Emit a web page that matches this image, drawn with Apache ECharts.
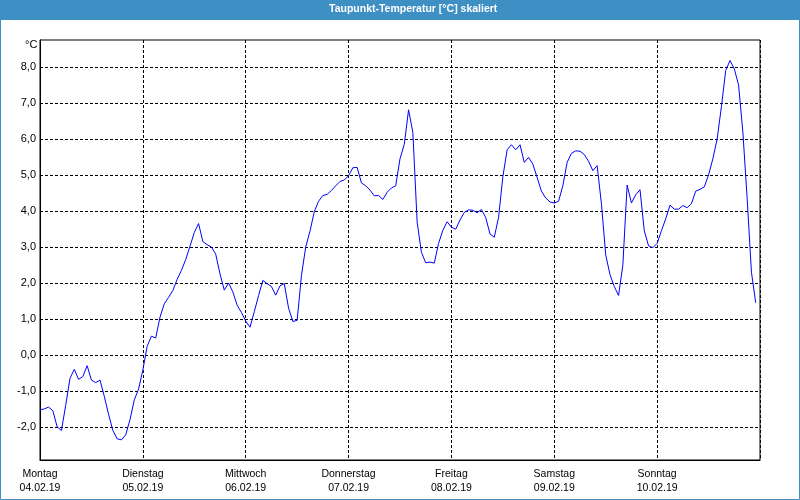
<!DOCTYPE html>
<html>
<head>
<meta charset="utf-8">
<script src="https://cdn.jsdelivr.net/npm/echarts@6/dist/echarts.min.js"></script>
<style>
html,body{margin:0;padding:0;background:#fff;}
#chart{width:800px;height:500px;}
</style>
</head>
<body>
<div id="chart"></div>
<script>
var titleText = 'Taupunkt-Temperatur [°C] skaliert';
var unitLabel = '°C';
var dayNames = ['Montag','Dienstag','Mittwoch','Donnerstag','Freitag','Samstag','Sonntag'];
var dayDates = ['04.02.19','05.02.19','06.02.19','07.02.19','08.02.19','09.02.19','10.02.19'];
var yTicks = [-2, -1, 0, 1, 2, 3, 4, 5, 6, 7, 8];
// hours since Monday 04.02.19 00:00
var hours = [];
for (var i = 0; i < 168; i++) hours.push(i);
var dewPoint = [
 -1.53,-1.50,-1.45,-1.55,-2.00,-2.10,-1.40,-0.65,-0.40,-0.68,-0.60,-0.30,
 -0.70,-0.77,-0.70,-1.15,-1.65,-2.10,-2.33,-2.36,-2.22,-1.80,-1.25,-0.95,
 -0.42, 0.24, 0.52, 0.47, 1.05, 1.42, 1.60, 1.79, 2.10, 2.35, 2.65, 3.02,
  3.40, 3.65, 3.15, 3.06, 3.00, 2.80, 2.25, 1.80, 2.00, 1.75, 1.38, 1.18,
  0.94, 0.77, 1.20, 1.65, 2.07, 1.98, 1.90, 1.66, 1.92, 1.98, 1.30, 0.93,
  0.96, 2.20, 3.00, 3.44, 3.98, 4.27, 4.43, 4.46, 4.57, 4.70, 4.82, 4.86,
  4.98, 5.20, 5.21, 4.78, 4.70, 4.58, 4.42, 4.43, 4.32, 4.52, 4.64, 4.70,
  5.45, 5.85, 6.81, 6.18, 3.69, 2.85, 2.56, 2.58, 2.55, 3.10, 3.46, 3.70,
  3.55, 3.49, 3.75, 3.96, 4.03, 4.02, 3.95, 4.04, 3.82, 3.36, 3.27, 3.82,
  4.95, 5.70, 5.84, 5.70, 5.84, 5.35, 5.49, 5.30, 4.93, 4.55, 4.36, 4.25,
  4.22, 4.27, 4.70, 5.35, 5.60, 5.67, 5.66, 5.57, 5.38, 5.12, 5.26, 4.20,
  2.78, 2.23, 1.90, 1.65, 2.50, 4.72, 4.22, 4.45, 4.59, 3.45, 3.03, 2.98,
  3.10, 3.45, 3.78, 4.16, 4.05, 4.05, 4.15, 4.09, 4.20, 4.55, 4.60, 4.67,
  5.00, 5.45, 6.00, 6.90, 7.90, 8.18, 7.95, 7.50, 6.20, 4.35, 2.30, 1.45
];

var FONT = "'Liberation Sans', Arial, sans-serif";
var BLUE = '#3d8fc4';

var chart = echarts.init(document.getElementById('chart'), null, {renderer: 'canvas'});
var seriesData = hours.map(function (h, i) { return [h, dewPoint[i]]; });

chart.setOption({
  animation: false,
  backgroundColor: '#ffffff',
  title: {
    text: titleText,
    left: 329,
    top: 4,
    padding: 0,
    z: 10,
    textStyle: {color: '#ffffff', fontSize: 10.5, fontWeight: 'bold', fontFamily: FONT}
  },
  graphic: [
    {type: 'rect', z: 0, shape: {x: 0, y: 0, width: 800, height: 20}, style: {fill: BLUE}},
    {type: 'rect', z: 0, shape: {x: 0.5, y: 0.5, width: 799, height: 499}, style: {fill: 'none', stroke: BLUE, lineWidth: 1}},
    {type: 'text', z: 5, left: 25, top: 39, style: {text: unitLabel, fill: '#000', font: '11px ' + FONT}}
  ],
  grid: {
    left: 40, right: 40, top: 40, bottom: 40,
    show: true, borderColor: '#000', borderWidth: 1, backgroundColor: '#fff'
  },
  xAxis: {
    type: 'value', min: 0, max: 168, interval: 24,
    axisLine: {show: true, onZero: false, lineStyle: {color: '#000', width: 1}},
    axisTick: {show: false},
    splitLine: {show: true, lineStyle: {color: '#000', width: 1, type: [3, 2]}},
    axisLabel: {
      margin: 7,
      color: '#000',
      fontSize: 10.5,
      lineHeight: 14,
      fontFamily: FONT,
      showMaxLabel: false,
      formatter: function (v) {
        var k = Math.round(v / 24);
        if (k >= dayNames.length) return '';
        return dayNames[k] + '\n' + dayDates[k];
      }
    }
  },
  yAxis: {
    type: 'value', min: -2.92, max: 8.75,
    axisLine: {show: true, onZero: false, lineStyle: {color: '#000', width: 1}},
    axisTick: {show: false},
    axisLabel: {show: false},
    splitLine: {show: false}
  },
  series: [{
    type: 'line',
    data: seriesData,
    showSymbol: false,
    symbol: 'none',
    lineStyle: {color: '#0000ff', width: 1},
    z: 5,
    markLine: {
      silent: true,
      symbol: ['none', 'none'],
      animation: false,
      lineStyle: {color: '#000', width: 1, type: [3, 2]},
      label: {
        show: true,
        position: 'start',
        distance: 4,
        color: '#000',
        fontSize: 11,
        fontFamily: FONT,
        formatter: function (p) { return p.value.toFixed(1).replace('.', ','); }
      },
      data: yTicks.map(function (t) { return {yAxis: t}; })
    }
  }]
});
</script>
</body>
</html>
